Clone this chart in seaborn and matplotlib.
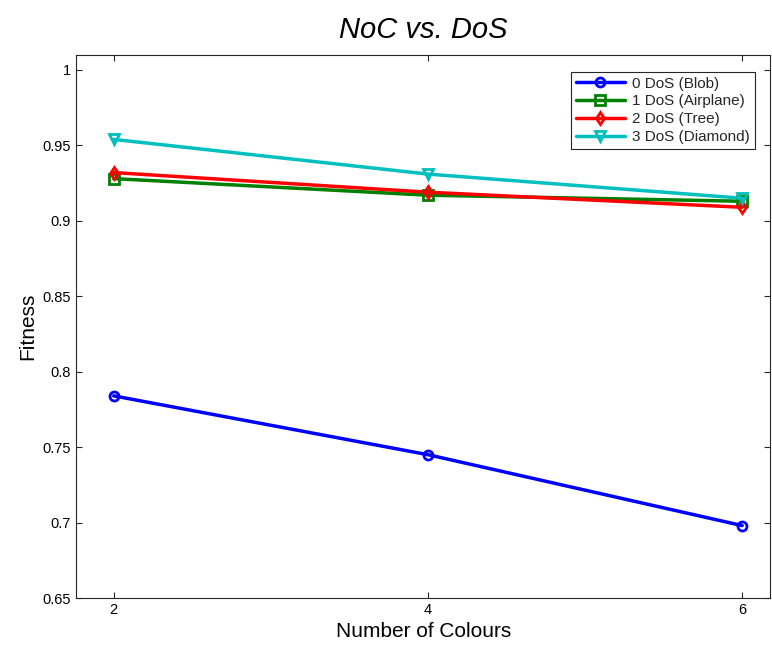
import pandas as pd
import matplotlib
matplotlib.use("Agg")
import matplotlib.pyplot as plt
import seaborn as sns

colours = [2, 4, 6]
series_names = ["0 DoS (Blob)", "1 DoS (Airplane)", "2 DoS (Tree)", "3 DoS (Diamond)"]
blob = [0.784, 0.745, 0.698]
airplane = [0.928, 0.917, 0.913]
tree = [0.932, 0.919, 0.909]
diamond = [0.954, 0.931, 0.915]

rows = []
for name, vals in zip(series_names, [blob, airplane, tree, diamond]):
	for x, y in zip(colours, vals):
		rows.append({"colours": x, "fitness": y, "series": name})
df = pd.DataFrame(rows)

sns.set_theme(style="white")
plt.rcParams['font.family'] = ['Liberation Sans', 'DejaVu Sans']

palette = dict(zip(series_names, [(0, 0, 1), (0, 0.5, 0), (1, 0, 0), (0, 0.75, 0.75)]))
markers = dict(zip(series_names, ["o", "s", "d", "v"]))

fig = plt.figure(figsize=(7.72, 6.46), dpi=100)
ax = fig.add_axes([0.0984, 0.0743, 0.8996, 0.8407])
sns.lineplot(data=df, x="colours", y="fitness", hue="series", style="series",
	palette=palette, markers=markers, dashes=False, linewidth=2.5,
	markersize=6.5, ax=ax, legend=False)

# open markers, edge in line colour (like MATLAB)
for ln in ax.lines:
	ln.set_markerfacecolor("none")
	ln.set_markeredgecolor(ln.get_color())
	ln.set_markeredgewidth(2)

ax.set_xlim(1.76, 6.18)
ax.set_ylim(0.65, 1.01)
ax.set_xticks(colours)
ax.set_xticklabels(["2", "4", "6"])
yt = [0.65, 0.7, 0.75, 0.8, 0.85, 0.9, 0.95, 1.0]
ax.set_yticks(yt)
ax.set_yticklabels(["0.65", "0.7", "0.75", "0.8", "0.85", "0.9", "0.95", "1"])
ax.tick_params(direction="in", length=4, width=0.8, labelsize=10.5, colors="#262626",
	top=True, right=True, left=True, bottom=True, labelcolor="black")
for s in ax.spines.values():
	s.set_color("#262626")
	s.set_linewidth(0.8)

ax.set_xlabel("Number of Colours", fontsize=15, color="black")
ax.set_ylabel("Fitness", fontsize=15, color="black")
ax.set_title("NoC vs. DoS", fontsize=21, style="italic", pad=12, color="black")

leg = ax.legend(ax.lines[:4], series_names, loc="upper right", bbox_to_anchor=(0.9885, 0.9825),
	fontsize=11, frameon=True, fancybox=False, edgecolor="#262626",
	framealpha=1, handlelength=3.2, borderpad=0.3, labelspacing=0.25, numpoints=1,
	handletextpad=0.5)
leg.get_frame().set_linewidth(0.8)

fig.savefig("out.png", dpi=100)
